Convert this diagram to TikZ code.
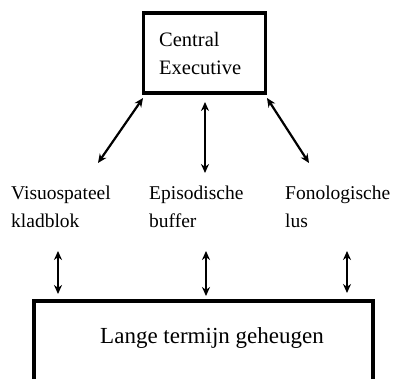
\documentclass[tikz,border=0pt]{standalone}
\usepackage{fontspec}
\setmainfont{Liberation Serif}
\usetikzlibrary{arrows.meta}
\begin{document}
\begin{tikzpicture}[x=1pt,y=-1pt,
  boxline/.style={line width=3.2pt},
  conn/.style={line width=2.2pt,{Stealth[length=9pt,width=8pt]}-{Stealth[length=9pt,width=8pt]}},
  lbl/.style={anchor=base west,inner sep=0pt,font=\fontsize{19.5}{28}\selectfont,align=left}]
\useasboundingbox (0,0) rectangle (393,379);
\clip (0,0) rectangle (393,379);
\fill[white] (0,0) rectangle (393,379);
% Central Executive
\node[boxline,draw,minimum width=122pt,minimum height=80pt,inner sep=0pt] (ce) at (204.5,53) {};
\node[lbl,font=\fontsize{20.5}{28}\selectfont] (cet) at (159,75) {Central\\Executive};
% labels
\node[lbl] (vs) at (11,227) {Visuospateel\\kladblok};
\node[lbl] (eb) at (149,227) {Episodische\\buffer};
\node[lbl] (fl) at (285,227) {Fonologische\\lus};
% Long term memory box
\draw[boxline] (34,400) -- (34,301) -- (373,301) -- (373,400);
\coordinate (ltm) at (203.5,340);
\node[anchor=base,inner sep=0pt,font=\fontsize{23}{28}\selectfont] (ltmt) at (212,343) {Lange termijn geheugen};
% coordinates for connectors
\coordinate (a1) at (143,98);
\coordinate (a2) at (98,163);
\coordinate (b1) at (205,102);
\coordinate (b2) at (205,173);
\coordinate (c1) at (267,98);
\coordinate (c2) at (309,163);
\coordinate (d1) at (58,251);
\coordinate (d2) at (58,294);
\coordinate (e1) at (206,251);
\coordinate (e2) at (206,296);
\coordinate (f1) at (347,251);
\coordinate (f2) at (347,293);
\draw[conn] (a1) -- (a2);
\draw[conn] (b1) -- (b2);
\draw[conn] (c1) -- (c2);
\draw[conn] (d1) -- (d2);
\draw[conn] (e1) -- (e2);
\draw[conn] (f1) -- (f2);
\end{tikzpicture}
\end{document}
